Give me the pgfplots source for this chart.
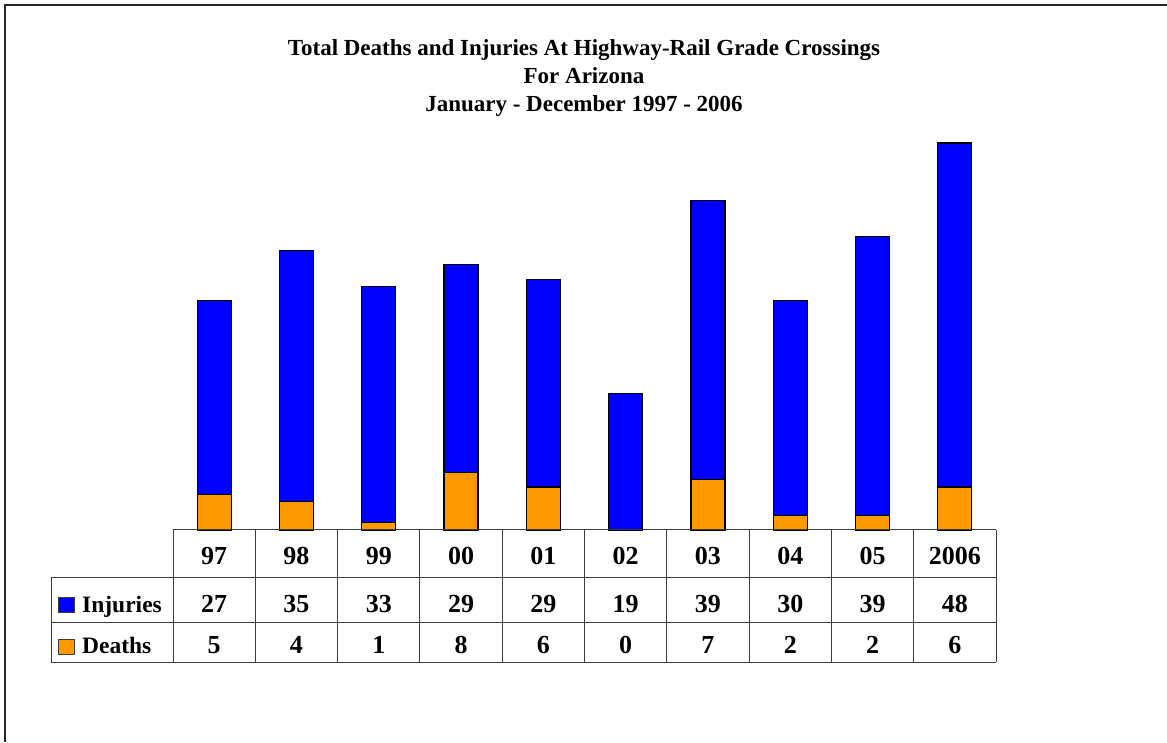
\documentclass[border=0pt]{standalone}
\usepackage{pgfplots}
\pgfplotsset{compat=1.18}
\usepackage{fontspec}
\setmainfont{Liberation Serif}
\definecolor{injblue}{RGB}{0,0,255}
\definecolor{deaorange}{RGB}{255,153,0}
\definecolor{gridc}{RGB}{60,60,60}
\begin{document}
\begin{tikzpicture}[x=1pt,y=1pt]
\useasboundingbox (0,0) rectangle (1167,742);
% frame (top and left visible)
\draw[line width=2pt, black!85] (5,0) -- (5,737) -- (1167,737);
% title
\begin{scope}[every node/.style={font=\fontsize{23}{28}\selectfont\bfseries, anchor=base, inner sep=0pt}]
\node at (584,686) {Total Deaths and Injuries At Highway-Rail Grade Crossings};
\node at (584,658) {For Arizona};
\node at (584,630) {January - December 1997 - 2006};
\end{scope}
% bars
\begin{axis}[at={(173pt,212pt)}, anchor=south west, scale only axis,
  width=823pt, height=387pt, hide axis,
  xmin=-0.5, xmax=9.5, ymin=0, ymax=54,
  ybar stacked, bar width=0.413, clip=false]
\addplot[fill=deaorange, draw=black, line width=1.2pt] coordinates {
(0,5) (1,4) (2,1) (3,8) (4,6) (5,0) (6,7) (7,2) (8,2) (9,6)};
\addplot[fill=injblue, draw=black, line width=1.2pt] coordinates {
(0,27) (1,35) (2,33) (3,29) (4,29) (5,19) (6,39) (7,30) (8,39) (9,48)};
\end{axis}
% data table
\draw[line width=1pt, gridc] (173,212) -- (996,212);
\draw[line width=1pt, gridc] (51,165) -- (996,165);
\draw[line width=1pt, gridc] (51,120) -- (996,120);
\draw[line width=1pt, gridc] (51,80) -- (996,80);
\draw[line width=1pt, gridc] (51,165) -- (51,80);
\foreach \i in {0,...,10} {\draw[line width=1pt, gridc] ({173+82.3*\i},212) -- ({173+82.3*\i},80);}
\begin{scope}[every node/.style={font=\fontsize{26}{30}\selectfont\bfseries, anchor=base, inner sep=0pt}]
\foreach \lab [count=\i from 0] in {97,98,99,00,01,02,03,04,05,2006}
  {\node at ({214.15+82.3*\i},178) {\lab};}
\foreach \v [count=\i from 0] in {27,35,33,29,29,19,39,30,39,48}
  {\node at ({214.15+82.3*\i},130) {\v};}
\foreach \v [count=\i from 0] in {5,4,1,8,6,0,7,2,2,6}
  {\node at ({214.15+82.3*\i},89) {\v};}
\end{scope}
% legend keys
\draw[fill=injblue, draw=gridc, line width=1pt] (58,130) rectangle (74,145);
\draw[fill=deaorange, draw=gridc, line width=1pt] (58,88) rectangle (74,103);
\begin{scope}[every node/.style={font=\fontsize{23.5}{28}\selectfont\bfseries, anchor=base west, inner sep=0pt}]
\node at (82,130) {Injuries};
\node at (82,89) {Deaths};
\end{scope}
\end{tikzpicture}
\end{document}
